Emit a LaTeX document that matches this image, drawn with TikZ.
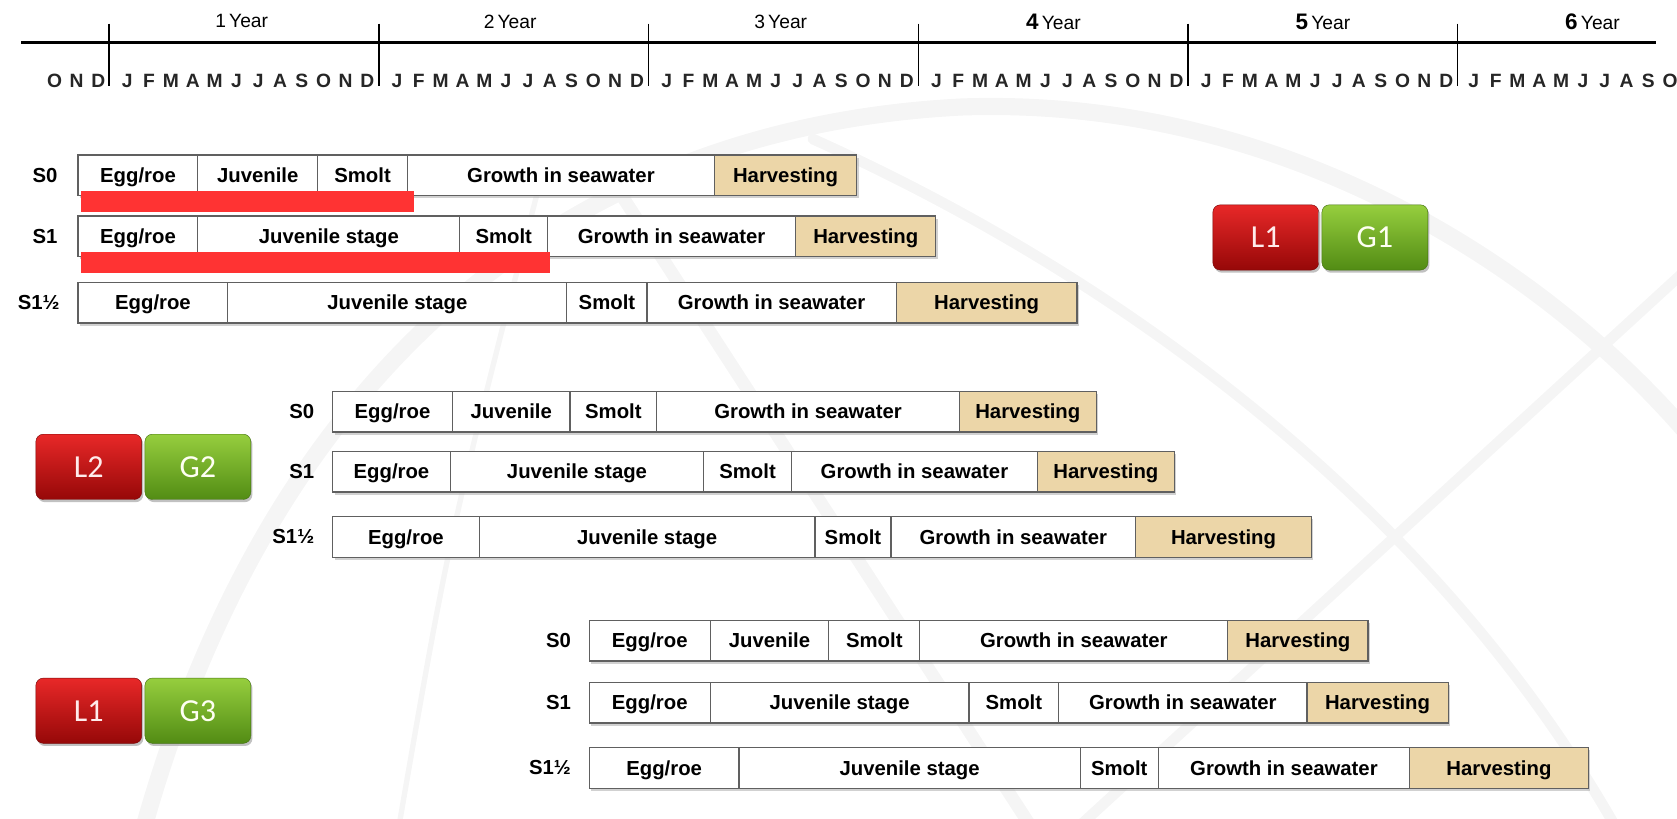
\documentclass[tikz,border=0pt]{standalone}
\usepackage{fontspec}
\setmainfont{Liberation Sans}
\newfontfamily\boxfont{Carlito}
\usetikzlibrary{positioning,shadows}
\definecolor{harvestcol}{RGB}{236,214,168}
\definecolor{markred}{RGB}{255,51,51}
\definecolor{redtop}{RGB}{232,40,40}
\definecolor{redbot}{RGB}{150,8,8}
\definecolor{greentop}{RGB}{150,206,62}
\definecolor{greenbot}{RGB}{82,140,20}
\newcommand{\yearlab}[1]{{\fontsize{21}{22}\selectfont\bfseries #1}\,Year}

\begin{document}
\begin{tikzpicture}[x=1pt,y=-1pt,
    stage/.style={draw=gray!75!black, line width=1.1pt, fill=white, minimum height=38pt,
      inner sep=0pt, outer sep=0pt, font=\fontsize{19}{22}\selectfont\bfseries,
      text height=15pt, text depth=1.5pt,
      drop shadow={shadow xshift=2pt, shadow yshift=-2.5pt, fill=gray!60, opacity=.6}},
    harvest/.style={stage, fill=harvestcol},
    rowlab/.style={font=\fontsize{19}{22}\selectfont\bfseries, inner sep=0pt},
    yearmark/.style={font=\fontsize{18}{19}\selectfont},
    month/.style={font=\fontsize{18}{19}\selectfont\bfseries, text=black!85},
    lbox/.style={rounded corners=7pt, minimum width=99pt, minimum height=61pt, inner sep=0pt,
      outer sep=0pt, font=\boxfont\fontsize{30}{32}\selectfont,
      drop shadow={shadow xshift=1.5pt, shadow yshift=-2.5pt, fill=gray!70, opacity=.7}},
    redbox/.style={lbox, top color=redtop, bottom color=redbot, draw=redbot!80!black, text=red!8},
    greenbox/.style={lbox, top color=greentop, bottom color=greenbot, draw=greenbot!80!black, text=green!8!yellow!5},
    marker/.style={fill=markred, draw=none}]
  \useasboundingbox (0,0) rectangle (1568,765);
  % watermark swooshes
  \begin{scope}[gray!8, line cap=round]
    \clip (0,0) rectangle (1568,765);
    \draw[line width=16pt] (130,790) .. controls (240,380) and (500,120) .. (900,100) .. controls (1200,90) and (1450,250) .. (1590,420);
    \draw[line width=12pt] (560,150) -- (975,790);
    \draw[line width=10pt] (760,130) .. controls (1050,260) and (1350,480) .. (1520,790);
    \draw[line width=10pt] (990,790) -- (1590,240);
    \draw[line width=5pt] (370,790) .. controls (420,500) .. (505,170);
  \end{scope}

  % time axis
  \coordinate (axstart) at (20,40);
  \coordinate (axend) at (1548,40);
  \draw[line width=2.6pt] (axstart) -- (axend);
  \foreach \k in {0,...,5}
    \draw[line width=1.3pt] (102+252.2*\k,22) -- (102+252.2*\k,80);
  \node[yearmark] (y1) at (226,20) {1\,Year};
  \node[yearmark] (y2) at (477,20) {2\,Year};
  \node[yearmark] (y3) at (730,20) {3\,Year};
  \node[yearmark] (y4) at (985,20) {\yearlab{4}};
  \node[yearmark] (y5) at (1237,20) {\yearlab{5}};
  \node[yearmark] (y6) at (1489,20) {\yearlab{6}};
  % months
  \foreach \m [count=\i from 0] in {O,N,D}
    \node[month] at (51+20.5*\i,76) {\m};
  \foreach \k in {0,...,4}
    \foreach \m [count=\i from 0] in {J,F,M,A,M,J,J,A,S,O,N,D}
      \node[month] at (102+252.2*\k+17+20.4*\i,76) {\m};
  \foreach \m [count=\i from 0] in {J,F,M,A,M,J,J,A,S,O}
    \node[month] at (1363+15+20.4*\i,76) {\m};

  % group L1 / G1
  \node[stage, minimum width=112pt, anchor=west] (aa1) at (73,164) {Egg/roe};
  \node[stage, minimum width=112pt, right=0pt of aa1] (aa2) {Juvenile};
  \node[stage, minimum width=84pt, right=0pt of aa2] (aa3) {Smolt};
  \node[stage, minimum width=287pt, right=0pt of aa3] (aa4) {Growth in seawater};
  \node[harvest, minimum width=133pt, right=0pt of aa4] (aa5) {Harvesting};
  \node[rowlab, left=19pt of aa1] (aal) {S0};
  \node[stage, minimum width=112pt, anchor=west] (ab1) at (73,221) {Egg/roe};
  \node[stage, minimum width=245pt, right=0pt of ab1] (ab2) {Juvenile stage};
  \node[stage, minimum width=82pt, right=0pt of ab2] (ab3) {Smolt};
  \node[stage, minimum width=232pt, right=0pt of ab3] (ab4) {Growth in seawater};
  \node[harvest, minimum width=131pt, right=0pt of ab4] (ab5) {Harvesting};
  \node[rowlab, left=19pt of ab1] (abl) {S1};
  \node[stage, minimum width=140pt, anchor=west] (ac1) at (73,283) {Egg/roe};
  \node[stage, minimum width=317pt, right=0pt of ac1] (ac2) {Juvenile stage};
  \node[stage, minimum width=75pt, right=0pt of ac2] (ac3) {Smolt};
  \node[stage, minimum width=233pt, right=0pt of ac3] (ac4) {Growth in seawater};
  \node[harvest, minimum width=169pt, right=0pt of ac4] (ac5) {Harvesting};
  \node[rowlab, left=17pt of ac1] (acl) {S1½};
  \node[marker, minimum width=311pt, minimum height=20pt, anchor=north west] (ma) at (76,178) {};
  \node[marker, minimum width=438pt, minimum height=20pt, anchor=north west] (mb) at (76,235) {};
  \node[redbox] (la) at (1183.5,222) {L1};
  \node[greenbox, right=3pt of la] (ga) {G1};

  % group L2 / G2
  \node[stage, minimum width=112pt, anchor=west] (ba1) at (311,385) {Egg/roe};
  \node[stage, minimum width=110pt, right=0pt of ba1] (ba2) {Juvenile};
  \node[stage, minimum width=81pt, right=0pt of ba2] (ba3) {Smolt};
  \node[stage, minimum width=283pt, right=0pt of ba3] (ba4) {Growth in seawater};
  \node[harvest, minimum width=128pt, right=0pt of ba4] (ba5) {Harvesting};
  \node[rowlab, left=17pt of ba1] (bal) {S0};
  \node[stage, minimum width=110pt, anchor=west] (bb1) at (311,441) {Egg/roe};
  \node[stage, minimum width=237pt, right=0pt of bb1] (bb2) {Juvenile stage};
  \node[stage, minimum width=82pt, right=0pt of bb2] (bb3) {Smolt};
  \node[stage, minimum width=230pt, right=0pt of bb3] (bb4) {Growth in seawater};
  \node[harvest, minimum width=128pt, right=0pt of bb4] (bb5) {Harvesting};
  \node[rowlab, left=17pt of bb1] (bbl) {S1};
  \node[stage, minimum width=137pt, anchor=west] (bc1) at (311,502) {Egg/roe};
  \node[stage, minimum width=314pt, right=0pt of bc1] (bc2) {Juvenile stage};
  \node[stage, minimum width=71pt, right=0pt of bc2] (bc3) {Smolt};
  \node[stage, minimum width=229pt, right=0pt of bc3] (bc4) {Growth in seawater};
  \node[harvest, minimum width=164pt, right=0pt of bc4] (bc5) {Harvesting};
  \node[rowlab, left=17pt of bc1] (bcl) {S1½};
  \node[redbox] (lb) at (83,436.5) {L2};
  \node[greenbox, right=3pt of lb] (gb) {G2};

  % group L1 / G3
  \node[stage, minimum width=113pt, anchor=west] (ca1) at (551,599) {Egg/roe};
  \node[stage, minimum width=111pt, right=0pt of ca1] (ca2) {Juvenile};
  \node[stage, minimum width=85pt, right=0pt of ca2] (ca3) {Smolt};
  \node[stage, minimum width=288pt, right=0pt of ca3] (ca4) {Growth in seawater};
  \node[harvest, minimum width=131pt, right=0pt of ca4] (ca5) {Harvesting};
  \node[rowlab, left=17pt of ca1] (cal) {S0};
  \node[stage, minimum width=113pt, anchor=west] (cb1) at (551,657) {Egg/roe};
  \node[stage, minimum width=242pt, right=0pt of cb1] (cb2) {Juvenile stage};
  \node[stage, minimum width=84pt, right=0pt of cb2] (cb3) {Smolt};
  \node[stage, minimum width=232pt, right=0pt of cb3] (cb4) {Growth in seawater};
  \node[harvest, minimum width=132pt, right=0pt of cb4] (cb5) {Harvesting};
  \node[rowlab, left=17pt of cb1] (cbl) {S1};
  \node[stage, minimum width=140pt, anchor=west] (cc1) at (551,718) {Egg/roe};
  \node[stage, minimum width=319pt, right=0pt of cc1] (cc2) {Juvenile stage};
  \node[stage, minimum width=73pt, right=0pt of cc2] (cc3) {Smolt};
  \node[stage, minimum width=235pt, right=0pt of cc3] (cc4) {Growth in seawater};
  \node[harvest, minimum width=167pt, right=0pt of cc4] (cc5) {Harvesting};
  \node[rowlab, left=17pt of cc1] (ccl) {S1½};
  \node[redbox] (lc) at (83,664.5) {L1};
  \node[greenbox, right=3pt of lc] (gc) {G3};
\end{tikzpicture}
\end{document}
